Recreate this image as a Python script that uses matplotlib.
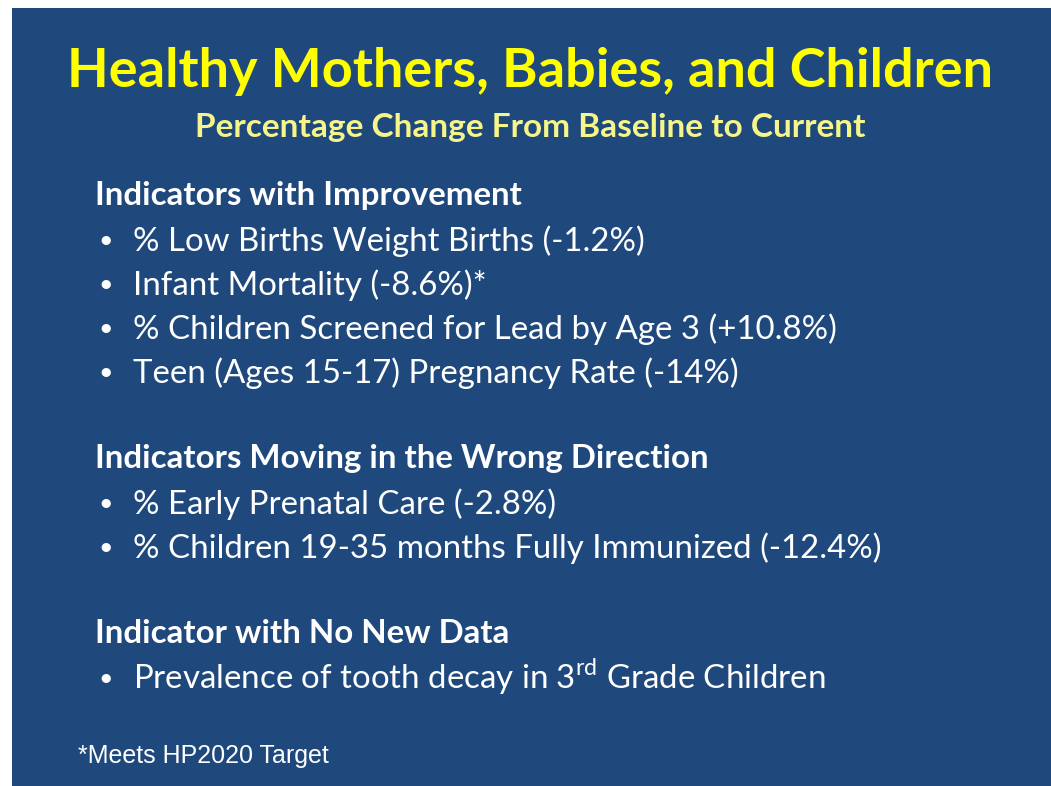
import matplotlib
matplotlib.use("Agg")
import matplotlib.pyplot as plt
from matplotlib.patches import Rectangle

W, H = 1051, 786

title = "Healthy Mothers, Babies, and Children"
subtitle = "Percentage Change From Baseline to Current"

improved_header = "Indicators with Improvement"
improved = [
    "% Low Births Weight Births (-1.2%)",
    "Infant Mortality (-8.6%)*",
    "% Children Screened for Lead by Age 3 (+10.8%)",
    "Teen (Ages 15-17) Pregnancy Rate (-14%)",
]
wrong_header = "Indicators Moving in the Wrong Direction"
wrong = [
    "% Early Prenatal Care (-2.8%)",
    "% Children 19-35 months Fully Immunized (-12.4%)",
]
nodata_header = "Indicator with No New Data"
nodata = ["Prevalence of tooth decay in 3$^{\\mathregular{rd}}$ Grade Children"]
footnote = "*Meets HP2020 Target"

plt.rcParams['mathtext.fontset'] = 'custom'
plt.rcParams['mathtext.rm'] = 'Lato'

fig = plt.figure(figsize=(W / 100, H / 100), dpi=100, facecolor='white')
bg = '#1F497D'
fig.add_artist(Rectangle((12 / W, 0), 1, 1 - 8 / H, transform=fig.transFigure,
                         facecolor=bg, edgecolor='none'))


def put(x, y, s, **kw):
    # x, y in pixels from the top-left, y is the baseline
    fig.text(x / W, 1 - y / H, s, va='baseline', **kw)


put(530, 87, title, ha='center', fontsize=39, fontweight='bold',
    color='#FFFF00', family='Lato')
put(530, 137, subtitle, ha='center', fontsize=24, fontweight='bold',
    color='#F5F58A', family='Lato')

body = dict(fontsize=23.8, color='white', family='Lato')
sections = [
    (205, improved_header, improved),
    (468, wrong_header, wrong),
    (643, nodata_header, nodata),
]
step = 44
for y0, head, items in sections:
    put(95, y0, head, fontweight='bold', **body)
    for i, item in enumerate(items):
        y = y0 + 46 + i * step
        put(98, y - 3, "\u2022", fontsize=18, color='white', family='Lato')
        put(133, y, item, **body)

put(78, 763, footnote, fontsize=18, color='white', family='Liberation Sans')

fig.savefig("out.png", dpi=100, facecolor='white')
